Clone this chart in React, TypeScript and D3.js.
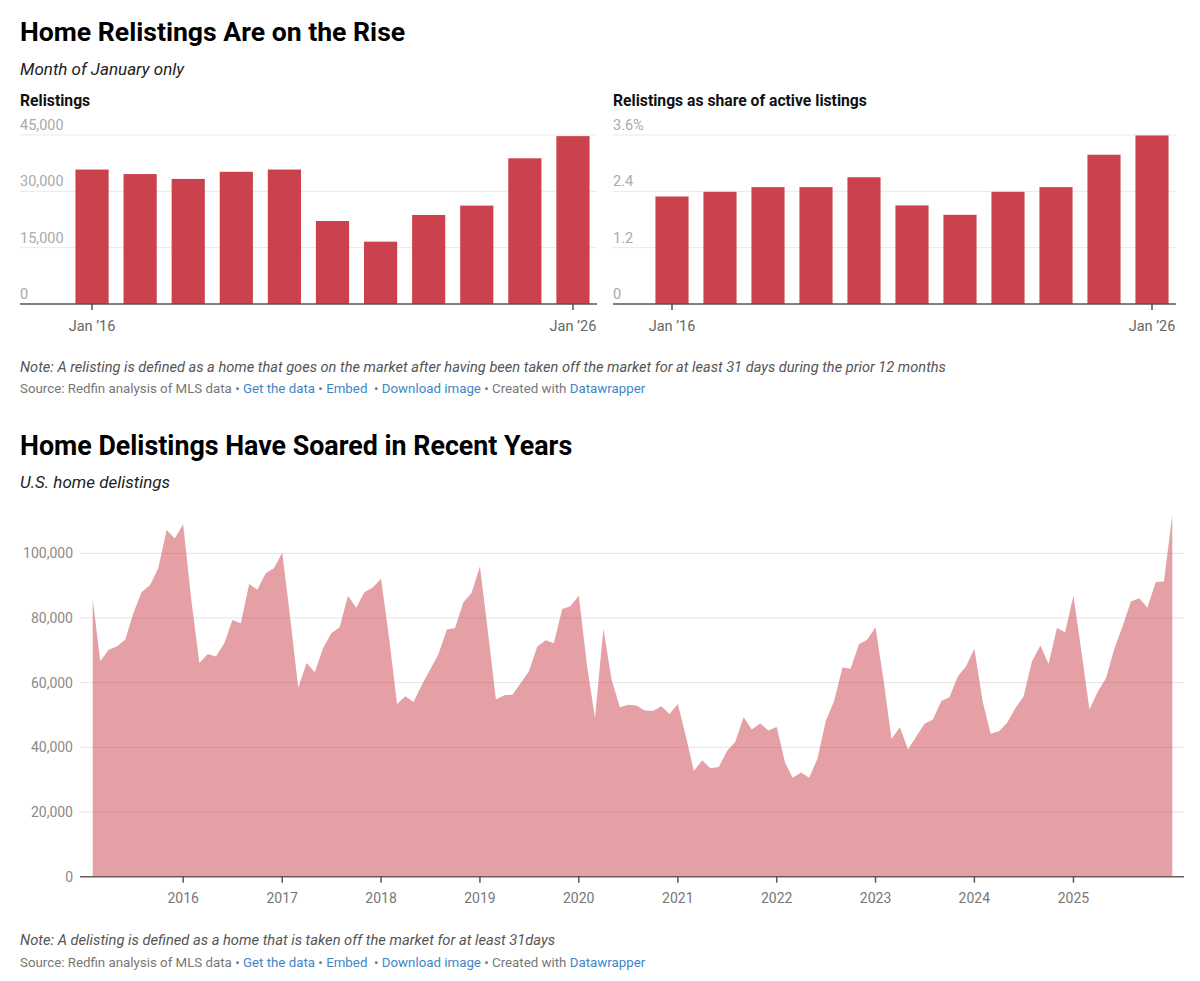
import React, { useEffect, useRef } from "react";
import * as d3 from "d3";

// Relistings, month of January only
const relistYears = ["2016", "2017", "2018", "2019", "2020", "2021", "2022", "2023", "2024", "2025", "2026"];
const relistings = [35800, 34600, 33300, 35200, 35800, 22100, 16600, 23700, 26200, 38800, 44700];
const relistShare = [2.29, 2.39, 2.49, 2.49, 2.7, 2.1, 1.9, 2.39, 2.49, 3.18, 3.59];
const relistTicks = [0, 15000, 30000, 45000];
const shareTicks = [0, 1.2, 2.4, 3.6];
const labelledYears = ["2016", "2026"];

// U.S. home delistings, monthly from Feb 2015
const delistStart = new Date(2015, 1, 1);
const delistings = [
  85800, 66600, 70200, 71200, 73300, 81500, 88000, 90200, 95400, 107200, 104600,
  109000, 85000, 66100, 68900, 68100, 72200, 79400, 78400, 90500, 88700, 93800, 95400,
  100200, 79000, 58400, 66100, 63200, 70700, 75300, 77100, 86900, 83200, 88000, 89400,
  92100, 72800, 53400, 55800, 54000, 59400, 64000, 68900, 76400, 76900, 84900, 87700,
  95900, 74800, 54800, 56100, 56300, 59900, 63500, 71200, 73100, 72200, 82800, 83600,
  86900, 65000, 49100, 76700, 61000, 52400, 53200, 52900, 51400, 51200, 52700, 50300,
  53400, 42900, 32700, 36000, 33500, 33900, 38800, 41700, 49300, 45500, 47400, 45200,
  46300, 35200, 30600, 32200, 30600, 36600, 48100, 54300, 64700, 64300, 71900, 73300,
  77100, 60000, 42600, 46200, 39300, 43400, 47300, 48600, 54300, 55500, 62000, 65000,
  70500, 54000, 44200, 45000, 47600, 52200, 55800, 66600, 71500, 65800, 76900, 75600,
  86900, 68600, 51700, 57300, 61400, 70500, 77400, 85100, 86100, 83200, 91100, 91300,
  111800,
];
const delistTicks = [0, 20000, 40000, 60000, 80000, 100000];
const delistYears = [2016, 2017, 2018, 2019, 2020, 2021, 2022, 2023, 2024, 2025];

const FONT = "Roboto, 'Noto Sans', sans-serif";
const BAR = "#ca424b";
const LINK = "#3d86c6";

export default function App() {
  const ref = useRef<SVGSVGElement>(null);

  useEffect(() => {
    if (!ref.current) return;
    const svg = d3.select(ref.current);
    svg.selectAll("*").remove();
    svg.style("font-family", FONT);

    const text = (x: number, y: number, s: string, size: number, opts: any = {}) =>
      svg
        .append("text")
        .attr("x", x)
        .attr("y", y)
        .attr("font-size", size)
        .attr("font-weight", opts.weight || 400)
        .attr("font-style", opts.italic ? "italic" : "normal")
        .attr("fill", opts.fill || "#222")
        .attr("text-anchor", opts.anchor || "start")
        .text(s);

    const sourceLine = (y: number) => {
      const t = svg
        .append("text")
        .attr("x", 20)
        .attr("y", y)
        .attr("font-size", 13.3)
        .attr("fill", "#777");
      const parts: [string, string][] = [
        ["Source: Redfin analysis of MLS data • ", "#777"],
        ["Get the data", LINK],
        [" • ", "#777"],
        ["Embed", LINK],
        ["  • ", "#777"],
        ["Download image", LINK],
        [" • Created with ", "#777"],
        ["Datawrapper", LINK],
      ];
      parts.forEach(([s, c]) => t.append("tspan").attr("fill", c).attr("xml:space", "preserve").text(s));
    };

    // ---- Top section
    text(20, 41, "Home Relistings Are on the Rise", 26.6, { weight: 700, fill: "#000" });
    text(20, 75, "Month of January only", 17, { italic: true, fill: "#222" });

    const barChart = (
      left: number,
      bandLeft: number,
      right: number,
      title: string,
      values: number[],
      ticks: number[],
      fmt: (v: number, i: number) => string
    ) => {
      const g = svg.append("g");
      text(left, 106, title, 15.7, { weight: 700, fill: "#111" });

      const y = d3.scaleLinear().domain([0, d3.max(ticks) as number]).range([304, 135]);
      const x = d3
        .scaleBand<string>()
        .domain(relistYears)
        .range([bandLeft, right])
        .paddingInner(0.31)
        .paddingOuter(0.155);

      ticks.forEach((t, i) => {
        if (t > 0) {
          g.append("line")
            .attr("x1", left)
            .attr("x2", right)
            .attr("y1", y(t))
            .attr("y2", y(t))
            .attr("stroke", "#e9e9e9")
            .attr("stroke-width", 1);
        }
        g.append("text")
          .attr("x", left)
          .attr("y", y(t) - 5)
          .attr("font-size", 14.5)
          .attr("fill", "#aaa")
          .text(fmt(t, i));
      });

      g.selectAll("rect.bar")
        .data(values)
        .enter()
        .append("rect")
        .attr("class", "bar")
        .attr("x", (_, i) => x(relistYears[i]) as number)
        .attr("width", x.bandwidth())
        .attr("y", (d) => y(d))
        .attr("height", (d) => y(0) - y(d))
        .attr("fill", BAR);

      g.append("line")
        .attr("x1", left)
        .attr("x2", right)
        .attr("y1", y(0))
        .attr("y2", y(0))
        .attr("stroke", "#555")
        .attr("stroke-width", 1.5);

      labelledYears.forEach((yr) => {
        const cx = (x(yr) as number) + x.bandwidth() / 2;
        g.append("line")
          .attr("x1", cx)
          .attr("x2", cx)
          .attr("y1", y(0))
          .attr("y2", y(0) + 6)
          .attr("stroke", "#555")
          .attr("stroke-width", 1.5);
        g.append("text")
          .attr("x", cx)
          .attr("y", 331)
          .attr("font-size", 14.5)
          .attr("fill", "#666")
          .attr("text-anchor", "middle")
          .text(`Jan \u2019${yr.slice(2)}`);
      });
    };

    barChart(20, 68, 597, "Relistings", relistings, relistTicks, (v) => d3.format(",")(v));
    barChart(613, 648, 1176, "Relistings as share of active listings", relistShare, shareTicks, (v, i) =>
      i === shareTicks.length - 1 ? `${v.toFixed(1)}%` : v === 0 ? "0" : v.toFixed(1)
    );

    text(
      20,
      372,
      "Note: A relisting is defined as a home that goes on the market after having been taken off the market for at least 31 days during the prior 12 months",
      14.6,
      { italic: true, fill: "#555" }
    );
    sourceLine(393);

    // ---- Bottom section
    text(20, 455, "Home Delistings Have Soared in Recent Years", 26.8, { weight: 700, fill: "#000" });
    text(20, 488, "U.S. home delistings", 17, { italic: true, fill: "#222" });

    const months = delistings.map((_, i) => d3.timeMonth.offset(delistStart, i));
    const x = d3
      .scaleTime()
      .domain([months[0], months[months.length - 1]])
      .range([92.7, 1172.3]);
    const y = d3.scaleLinear().domain([0, 100000]).range([876.7, 553.3]);

    const g = svg.append("g");

    g.selectAll("text.ytick")
      .data(delistTicks)
      .enter()
      .append("text")
      .attr("class", "ytick")
      .attr("x", 73)
      .attr("y", (d) => y(d))
      .attr("dy", "0.35em")
      .attr("font-size", 14)
      .attr("fill", "#8a8a8a")
      .attr("text-anchor", "end")
      .text((d) => d3.format(",")(d));

    const area = d3
      .area<number>()
      .x((_, i) => x(months[i]))
      .y0(y(0))
      .y1((d) => y(d));

    g.selectAll("line.grid")
      .data(delistTicks.filter((t) => t > 0))
      .enter()
      .append("line")
      .attr("class", "grid")
      .attr("x1", 80)
      .attr("x2", 1184)
      .attr("y1", (d) => y(d))
      .attr("y2", (d) => y(d))
      .attr("stroke", "#e4e4e4")
      .attr("stroke-width", 1);

    g.append("path")
      .datum(delistings)
      .attr("d", area)
      .attr("fill", "#c9414c")
      .attr("fill-opacity", 0.5);

    g.append("line")
      .attr("x1", 80)
      .attr("x2", 1184)
      .attr("y1", y(0))
      .attr("y2", y(0))
      .attr("stroke", "#6b5a5c")
      .attr("stroke-width", 1.5);

    delistYears.forEach((yr) => {
      const cx = x(new Date(yr, 0, 1));
      g.append("line")
        .attr("x1", cx)
        .attr("x2", cx)
        .attr("y1", y(0))
        .attr("y2", y(0) + 6)
        .attr("stroke", "#555")
        .attr("stroke-width", 1.5);
      g.append("text")
        .attr("x", cx)
        .attr("y", 903)
        .attr("font-size", 14)
        .attr("fill", "#777")
        .attr("text-anchor", "middle")
        .text(String(yr));
    });

    text(20, 945, "Note: A delisting is defined as a home that is taken off the market for at least 31days", 14.7, {
      italic: true,
      fill: "#555",
    });
    sourceLine(967);
  }, []);

  return (
    <svg
      ref={ref}
      width={1200}
      height={981}
      style={{ position: "absolute", left: 0, top: 0, background: "#fff" }}
    />
  );
}
